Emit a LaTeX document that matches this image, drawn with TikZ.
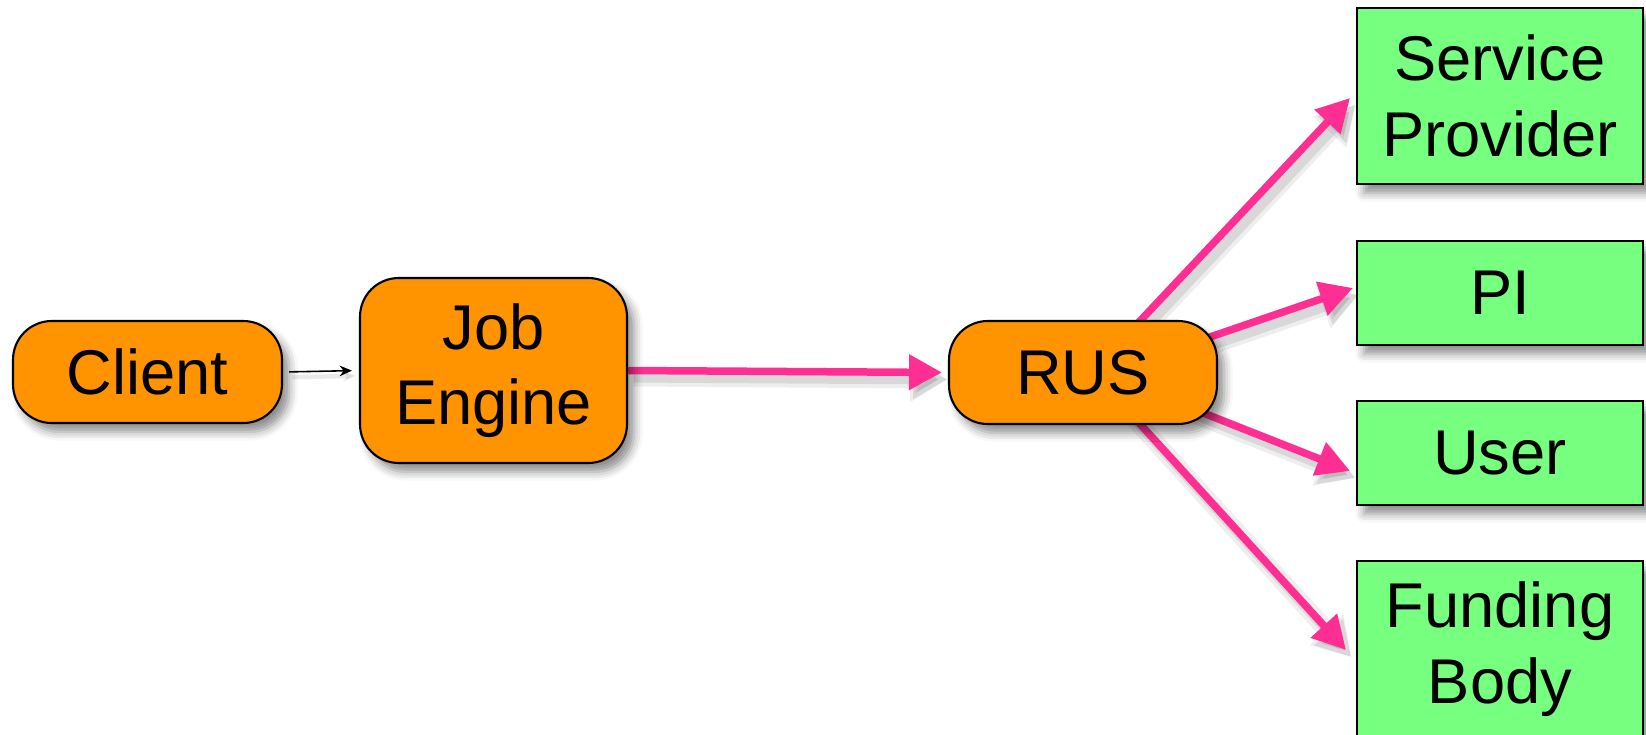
\documentclass[tikz,border=0pt]{standalone}
\usepackage{fontspec}
\setmainfont{Liberation Sans}
\usetikzlibrary{arrows.meta,shadows.blur,backgrounds}
\definecolor{boxorange}{RGB}{255,148,0}
\definecolor{boxgreen}{RGB}{119,255,127}
\definecolor{flowpink}{RGB}{255,46,146}
\tikzset{
  px/.style={x=0.02cm,y=-0.02cm},
  nshadow/.style={blur shadow={shadow xshift=4pt,shadow yshift=-5pt,shadow blur radius=5pt,shadow opacity=45}},
  pill/.style={draw=black,line width=1.2pt,fill=boxorange,rounded corners=22pt,
    align=center,font=\fontsize{36}{43}\selectfont,inner sep=0pt,nshadow},
  gbox/.style={draw=black,line width=1.2pt,fill=boxgreen,
    align=center,font=\fontsize{36}{43}\selectfont,inner sep=0pt,minimum width=5.72cm,nshadow},
  pinkarrow/.style={draw=flowpink,line width=0.15cm,
    -{Triangle[length=0.66cm,width=0.68cm]},
    preaction={draw=black!55,opacity=0.12,line width=0.36cm,
      -{Triangle[length=0.74cm,width=0.86cm]},transform canvas={shift={(3pt,-4pt)}}},
    preaction={draw=black!55,opacity=0.18,line width=0.2cm,
      -{Triangle[length=0.68cm,width=0.74cm]},transform canvas={shift={(3pt,-4pt)}}}},
  thinarrow/.style={draw=black,line width=0.9pt,-{Stealth[length=7pt,width=6pt]},
    preaction={draw=black!55,opacity=0.15,line width=2.5pt,transform canvas={shift={(2pt,-3pt)}}}}
}
\begin{document}
\begin{tikzpicture}[px]
\useasboundingbox (0,0) rectangle (1646,734);
\node[pill,minimum width=5.38cm,minimum height=2.04cm] (client) at (147.5,372) {Client};
\node[pill,minimum width=5.34cm,minimum height=3.70cm] (je) at (493.5,370.5) {Job\\Engine};
\node[pill,minimum width=5.36cm,minimum height=2.06cm] (rus) at (1083,372.5) {RUS};
\node[gbox,minimum height=3.52cm] (sp) at (1500,96) {Service\\Provider};
\node[gbox,minimum height=2.08cm] (pi) at (1500,293) {PI};
\node[gbox,minimum height=2.08cm] (user) at (1500,453) {User};
\node[gbox,minimum height=3.52cm] (fb) at (1500,649) {Funding\\Body};
\coordinate (tsp) at (1350,98);
\coordinate (tpi) at (1353,288);
\coordinate (tuser) at (1350,471);
\coordinate (tfb) at (1346,650);
\begin{scope}[on background layer]
\draw[thinarrow,shorten <=0.12cm,shorten >=0.14cm] (client.east) -- (je.west);
\draw[pinkarrow,shorten >=0.12cm] (je.east) -- (rus.west);
\draw[pinkarrow] ([yshift=-0.18cm]rus.center) -- (tsp);
\draw[pinkarrow] ([yshift=-0.16cm]rus.center) -- (tpi);
\draw[pinkarrow] ([yshift=0.14cm]rus.center) -- (tuser);
\draw[pinkarrow] ([yshift=0.22cm]rus.center) -- (tfb);
\end{scope}
\end{tikzpicture}
\end{document}
